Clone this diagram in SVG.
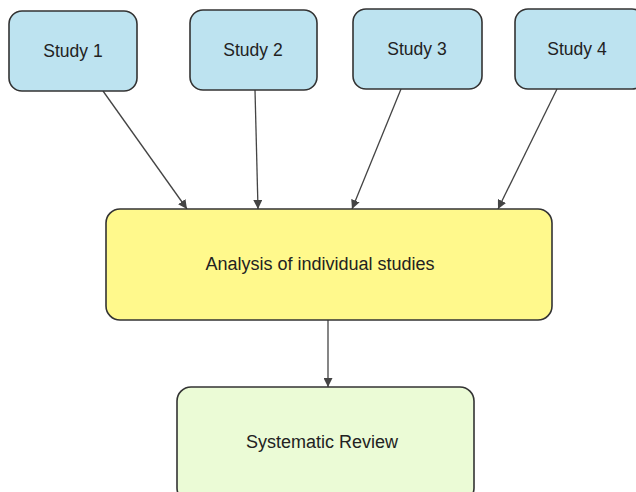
<svg xmlns="http://www.w3.org/2000/svg" width="636" height="492" viewBox="0 0 636 492">
<style>
.study rect{fill:#bde3f0;stroke:#333;stroke-width:1.6}
.an rect{fill:#fff98c;stroke:#333;stroke-width:1.6}
.sr rect{fill:#ebfbd6;stroke:#333;stroke-width:1.6}
text{font-family:"Liberation Sans",Arial,sans-serif;fill:#222;text-anchor:middle}
.s{font-size:17.5px}
.b{font-size:18px}
.edges line{stroke:#444;stroke-width:1.3;marker-end:url(#ah)}
</style>
<defs>
<marker id="ah" viewBox="0 0 10 10" refX="10" refY="5" markerWidth="9" markerHeight="9" markerUnits="userSpaceOnUse" orient="auto">
<path d="M0,0 L10,5 L0,10 z" fill="#444"/>
</marker>
</defs>
<rect width="636" height="492" fill="#fff"/>
<g class="edges">
<line x1="103" y1="91" x2="187" y2="209"/>
<line x1="255" y1="90" x2="258" y2="209"/>
<line x1="401" y1="89" x2="352" y2="209"/>
<line x1="557" y1="89" x2="498" y2="209"/>
<line x1="328" y1="320" x2="328" y2="387"/>
</g>
<g id="study1" class="study"><rect x="9" y="11" width="128" height="80" rx="13"/><text class="s" x="73" y="57">Study 1</text></g>
<g id="study2" class="study"><rect x="190" y="10" width="127" height="80" rx="13"/><text class="s" x="253" y="56">Study 2</text></g>
<g id="study3" class="study"><rect x="353" y="9" width="129" height="80" rx="13"/><text class="s" x="417" y="55">Study 3</text></g>
<g id="study4" class="study"><rect x="515" y="9" width="130" height="80" rx="13"/><text class="s" x="577" y="55">Study 4</text></g>
<g id="analysis" class="an"><rect x="106" y="209" width="446" height="111" rx="14"/><text class="b" x="320" y="270">Analysis of individual studies</text></g>
<g id="review" class="sr"><rect x="177" y="387" width="297" height="115" rx="14"/><text class="b" x="322" y="448">Systematic Review</text></g>
</svg>
